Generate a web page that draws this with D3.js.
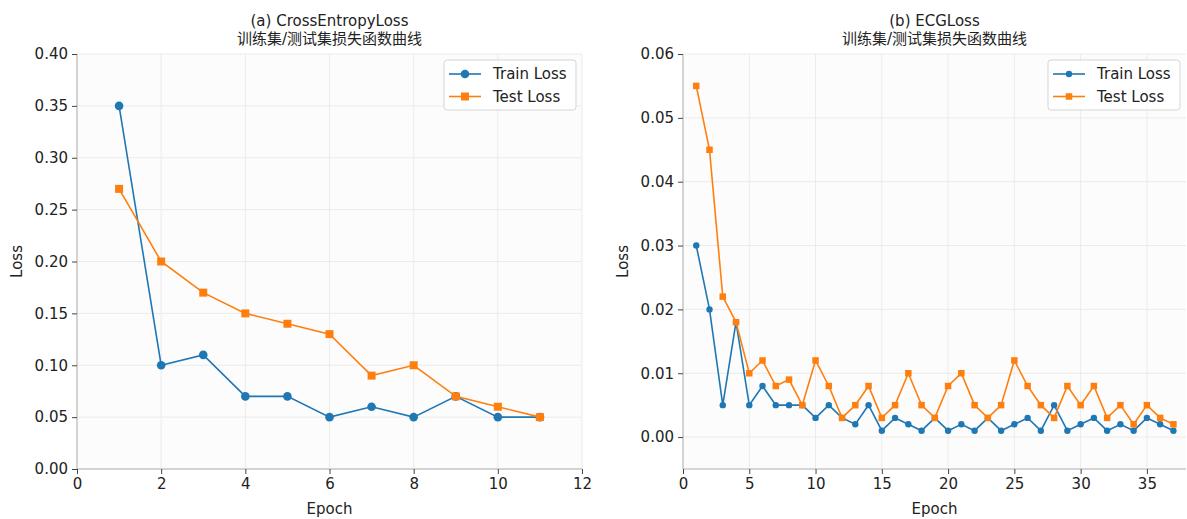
<!DOCTYPE html>
<html>
<head>
<meta charset="utf-8">
<script src="https://d3js.org/d3.v7.min.js"></script>
<style>
  body { margin: 0; background: #fff; }
  text { font-family: "DejaVu Sans", "Noto Sans CJK SC", sans-serif; fill: #222; }
</style>
</head>
<body>
<div id="vis"></div>
<script>
// Data
var ceEpochs = [1, 2, 3, 4, 5, 6, 7, 8, 9, 10, 11];
var ceTrain = [0.35, 0.10, 0.11, 0.07, 0.07, 0.05, 0.06, 0.05, 0.07, 0.05, 0.05];
var ceTest = [0.27, 0.20, 0.17, 0.15, 0.14, 0.13, 0.09, 0.10, 0.07, 0.06, 0.05];

var ecgEpochs = d3.range(1, 38);
var ecgTrain = [0.030, 0.020, 0.005, 0.018, 0.005, 0.008, 0.005, 0.005, 0.005, 0.003,
  0.005, 0.003, 0.002, 0.005, 0.001, 0.003, 0.002, 0.001, 0.003, 0.001,
  0.002, 0.001, 0.003, 0.001, 0.002, 0.003, 0.001, 0.005, 0.001, 0.002,
  0.003, 0.001, 0.002, 0.001, 0.003, 0.002, 0.001];
var ecgTest = [0.055, 0.045, 0.022, 0.018, 0.010, 0.012, 0.008, 0.009, 0.005, 0.012,
  0.008, 0.003, 0.005, 0.008, 0.003, 0.005, 0.010, 0.005, 0.003, 0.008,
  0.010, 0.005, 0.003, 0.005, 0.012, 0.008, 0.005, 0.003, 0.008, 0.005,
  0.008, 0.003, 0.005, 0.002, 0.005, 0.003, 0.002];

var seriesNames = ['Train Loss', 'Test Loss'];
var colors = ['#1f77b4', '#ff7f0e'];

var width = 1187;
var height = 519;
var fontSize = 15;

var svg = d3.select('#vis').append('svg')
  .attr('width', width)
  .attr('height', height);

/*
 * Draws one loss panel. opts holds the frame of the plot area,
 * the axis domains and tick values, and the marker sizes.
 */
function lossPanel(opts) {
  var x = d3.scaleLinear().domain(opts.xDomain).range([opts.left, opts.right]);
  var y = d3.scaleLinear().domain(opts.yDomain).range([opts.bottom, opts.top]);

  var g = svg.append('g');

  // plot background
  g.append('rect')
    .attr('x', opts.left)
    .attr('y', opts.top)
    .attr('width', opts.right - opts.left)
    .attr('height', opts.bottom - opts.top)
    .attr('fill', '#fcfcfc');

  // grid
  g.selectAll('.gx').data(opts.xTicks).enter().append('line')
    .attr('x1', function (d) { return x(d); })
    .attr('x2', function (d) { return x(d); })
    .attr('y1', opts.top)
    .attr('y2', opts.bottom)
    .attr('stroke', '#ebebeb')
    .attr('stroke-width', 1);
  g.selectAll('.gy').data(opts.yTicks).enter().append('line')
    .attr('x1', opts.left)
    .attr('x2', opts.right)
    .attr('y1', function (d) { return y(d); })
    .attr('y2', function (d) { return y(d); })
    .attr('stroke', '#ebebeb')
    .attr('stroke-width', 1);

  // axes
  var xAxis = d3.axisBottom(x).tickValues(opts.xTicks).tickSize(5).tickPadding(4)
    .tickFormat(d3.format('d'));
  var yAxis = d3.axisLeft(y).tickValues(opts.yTicks).tickSize(5).tickPadding(4)
    .tickFormat(d3.format('.2f'));

  var gx = g.append('g')
    .attr('transform', 'translate(0,' + opts.bottom + ')')
    .call(xAxis);
  var gy = g.append('g')
    .attr('transform', 'translate(' + opts.left + ',0)')
    .call(yAxis);

  [gx, gy].forEach(function (a) {
    a.select('.domain').attr('stroke', '#c8c8c8').attr('stroke-width', 1.5);
    a.selectAll('.tick line').attr('stroke', '#444').attr('stroke-width', 1);
    a.selectAll('.tick text')
      .attr('font-size', fontSize)
      .attr('fill', '#222')
      .attr('font-family', '"DejaVu Sans", sans-serif');
  });
  // drop the outer tick stubs of the domain paths
  gx.select('.domain').attr('d', 'M' + opts.left + ',0H' + opts.right);
  gy.select('.domain').attr('d', 'M0,' + opts.bottom + 'V' + opts.top);

  // axis labels
  g.append('text')
    .attr('x', (opts.left + opts.right) / 2)
    .attr('y', 514)
    .attr('text-anchor', 'middle')
    .attr('font-size', fontSize)
    .text('Epoch');
  g.append('text')
    .attr('transform', 'translate(' + (opts.left - 55) + ',' + ((opts.top + opts.bottom) / 2) + ') rotate(-90)')
    .attr('text-anchor', 'middle')
    .attr('font-size', fontSize)
    .text('Loss');

  // titles
  var cx = (opts.left + opts.right) / 2;
  g.append('text')
    .attr('x', cx)
    .attr('y', 26)
    .attr('text-anchor', 'middle')
    .attr('font-size', fontSize)
    .text(opts.title);
  g.append('text')
    .attr('x', cx)
    .attr('y', 44)
    .attr('text-anchor', 'middle')
    .attr('font-size', fontSize)
    .attr('font-family', '"Noto Sans CJK SC", sans-serif')
    .text('训练集/测试集损失函数曲线');

  var line = d3.line()
    .x(function (d) { return x(d[0]); })
    .y(function (d) { return y(d[1]); });

  [opts.train, opts.test].forEach(function (vals, i) {
    var pts = opts.epochs.map(function (e, j) { return [e, vals[j]]; });
    g.append('path')
      .datum(pts)
      .attr('fill', 'none')
      .attr('stroke', colors[i])
      .attr('stroke-width', 1.6)
      .attr('d', line);
    if (i === 0) {
      g.selectAll('.dot' + i).data(pts).enter().append('circle')
        .attr('cx', function (d) { return x(d[0]); })
        .attr('cy', function (d) { return y(d[1]); })
        .attr('r', opts.r)
        .attr('fill', colors[i]);
    } else {
      g.selectAll('.sq' + i).data(pts).enter().append('rect')
        .attr('x', function (d) { return x(d[0]) - opts.sq / 2; })
        .attr('y', function (d) { return y(d[1]) - opts.sq / 2; })
        .attr('width', opts.sq)
        .attr('height', opts.sq)
        .attr('fill', colors[i]);
    }
  });

  // legend, upper right
  var lx = opts.right - 138;
  var ly = opts.top + 6;
  var leg = g.append('g');
  leg.append('rect')
    .attr('x', lx)
    .attr('y', ly)
    .attr('width', 132)
    .attr('height', 50)
    .attr('rx', 3)
    .attr('fill', '#fff')
    .attr('fill-opacity', 0.85)
    .attr('stroke', '#d5d5d5')
    .attr('stroke-width', 1);
  seriesNames.forEach(function (name, i) {
    var ry = ly + 14 + i * 22.5;
    leg.append('line')
      .attr('x1', lx + 5)
      .attr('x2', lx + 37)
      .attr('y1', ry)
      .attr('y2', ry)
      .attr('stroke', colors[i])
      .attr('stroke-width', 1.6);
    if (i === 0) {
      leg.append('circle').attr('cx', lx + 21).attr('cy', ry).attr('r', opts.r).attr('fill', colors[i]);
    } else {
      leg.append('rect')
        .attr('x', lx + 21 - opts.sq / 2).attr('y', ry - opts.sq / 2)
        .attr('width', opts.sq).attr('height', opts.sq)
        .attr('fill', colors[i]);
    }
    leg.append('text')
      .attr('x', lx + 49)
      .attr('y', ry + 5)
      .attr('font-size', fontSize)
      .text(name);
  });
}

lossPanel({
  left: 77, right: 582, top: 54, bottom: 469,
  xDomain: [0, 12], yDomain: [0, 0.4],
  xTicks: d3.range(0, 13, 2), yTicks: d3.range(0, 9).map(function (i) { return i * 0.05; }),
  epochs: ceEpochs, train: ceTrain, test: ceTest,
  title: '(a) CrossEntropyLoss',
  r: 4.3, sq: 8
});

lossPanel({
  left: 683, right: 1186, top: 54, bottom: 469,
  xDomain: [0, 37.95], yDomain: [-0.005, 0.06],
  xTicks: d3.range(0, 36, 5), yTicks: d3.range(0, 7).map(function (i) { return i * 0.01; }),
  epochs: ecgEpochs, train: ecgTrain, test: ecgTest,
  title: '(b) ECGLoss',
  r: 3.2, sq: 6.5
});
</script>
</body>
</html>
